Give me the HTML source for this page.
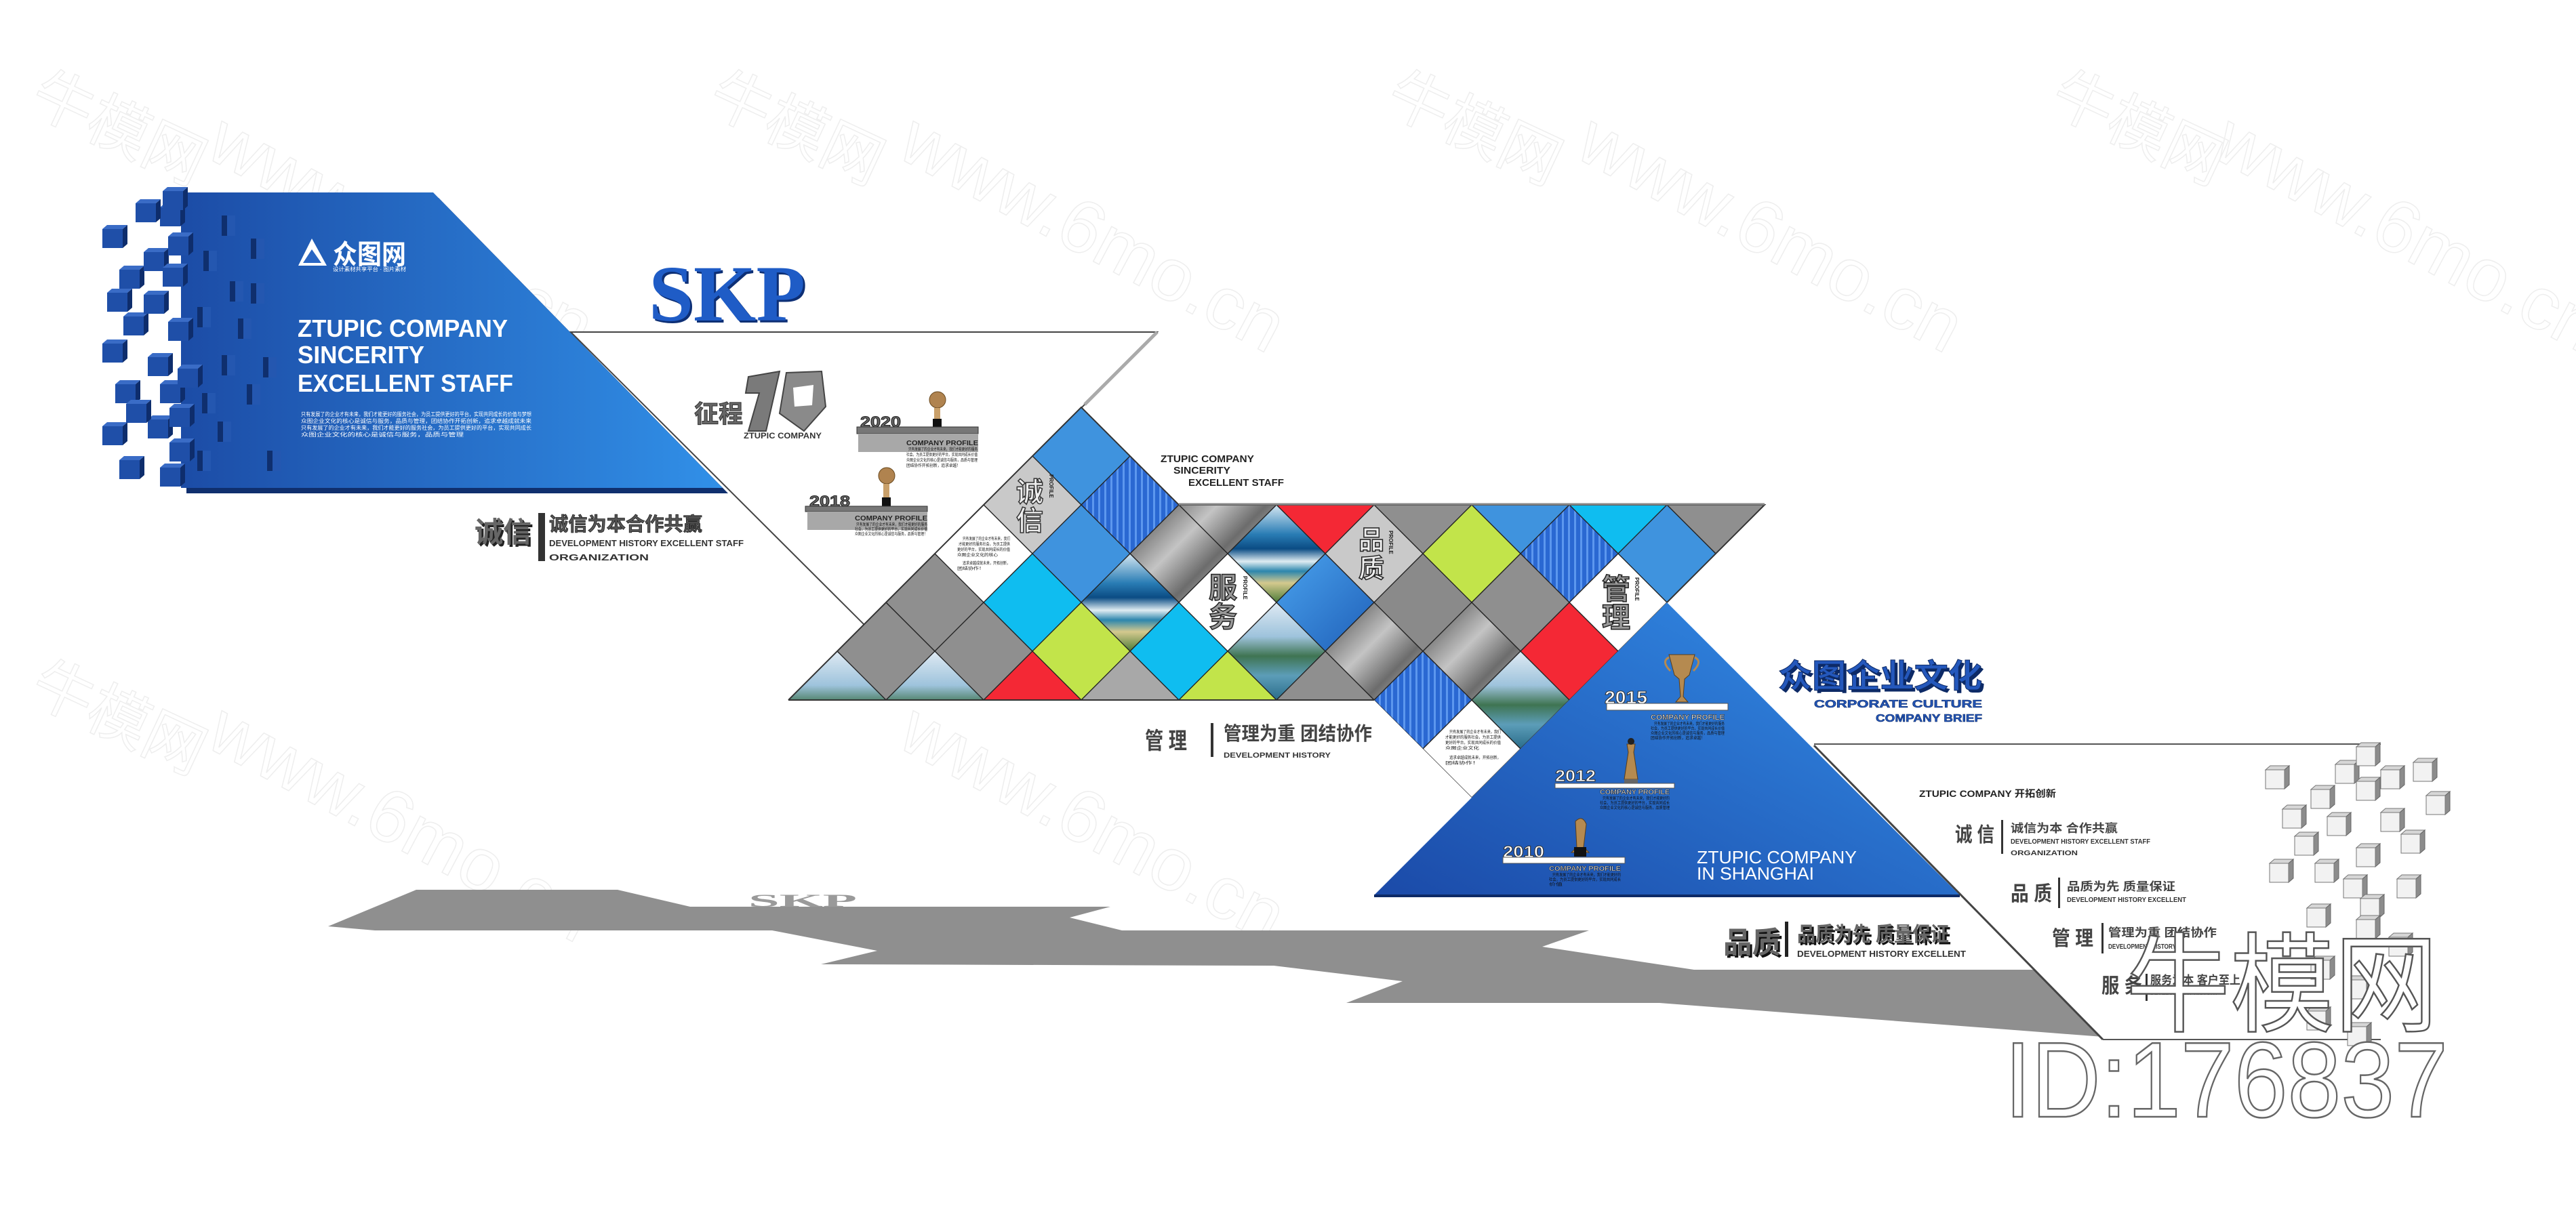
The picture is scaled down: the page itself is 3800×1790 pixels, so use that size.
<!DOCTYPE html>
<html><head><meta charset="utf-8">
<style>
html,body{margin:0;padding:0;background:#fff;}
svg{display:block;}
text{font-family:"Liberation Sans","Noto Sans CJK SC",sans-serif;}
.cn{font-family:"Liberation Sans","Noto Sans CJK SC",sans-serif;font-weight:bold;}
.serif{font-family:"Liberation Serif",serif !important;font-weight:bold;}
</style></head>
<body>
<svg width="3800" height="1790" viewBox="0 0 3800 1790" xmlns="http://www.w3.org/2000/svg">
<defs>
  <linearGradient id="gPanel" x1="0" y1="0" x2="1" y2="0">
    <stop offset="0" stop-color="#1c4ca6"/><stop offset="1" stop-color="#3190e8"/>
  </linearGradient>
  <linearGradient id="gTri" x1="0" y1="1" x2="1" y2="0">
    <stop offset="0" stop-color="#1b4aa8"/><stop offset="1" stop-color="#3490ea"/>
  </linearGradient>
  <linearGradient id="gSea" x1="0" y1="0" x2="0" y2="1">
    <stop offset="0" stop-color="#d6e7f2"/><stop offset="0.3" stop-color="#2a7db5"/>
    <stop offset="0.45" stop-color="#0b4c84"/><stop offset="0.58" stop-color="#dfecf2"/>
    <stop offset="0.68" stop-color="#2c86ad"/><stop offset="0.8" stop-color="#d4c98e"/>
    <stop offset="1" stop-color="#4c7b38"/>
  </linearGradient>
  <linearGradient id="gMtn" x1="0" y1="0" x2="0" y2="1">
    <stop offset="0" stop-color="#dfeaf3"/><stop offset="0.35" stop-color="#9ec3dc"/>
    <stop offset="0.55" stop-color="#3f7452"/><stop offset="0.75" stop-color="#5c9db8"/>
    <stop offset="1" stop-color="#2a6c8a"/>
  </linearGradient>
  <linearGradient id="gBW" x1="0" y1="0" x2="1" y2="1">
    <stop offset="0" stop-color="#3a3a3a"/><stop offset="0.45" stop-color="#c4c4c4"/>
    <stop offset="0.7" stop-color="#6c6c6c"/><stop offset="1" stop-color="#d0d0d0"/>
  </linearGradient>
  <linearGradient id="gBlueD" x1="0" y1="0" x2="1" y2="1">
    <stop offset="0" stop-color="#4aa3ee"/><stop offset="1" stop-color="#1f5fb8"/>
  </linearGradient>
  <pattern id="pStripe" width="9" height="20" patternUnits="userSpaceOnUse">
    <rect width="9" height="20" fill="#2a68d2"/><rect x="0" width="3" height="20" fill="#5c97ee"/>
  </pattern>
  <g id="bc">
    <polygon points="0,0 7,-6 37,-6 30,0" fill="#3a6cc6"/>
    <polygon points="30,0 37,-6 37,22 30,28" fill="#0e2d6c"/>
    <rect x="0" y="0" width="30" height="28" fill="#1f4fa8"/>
  </g>
  <g id="bs">
    <rect x="0" y="0" width="8" height="30" fill="#0f2f6e"/>
    <rect x="8" y="0" width="12" height="30" fill="#2457b0"/>
  </g>
  <g id="gc">
    <polygon points="0,0 7,-6 35,-6 28,0" fill="#d6d6d6" stroke="#777" stroke-width="1"/>
    <polygon points="28,0 35,-6 35,22 28,28" fill="#8c8c8c" stroke="#666" stroke-width="1"/>
    <rect x="0" y="0" width="28" height="28" fill="#f2f2f2" stroke="#777" stroke-width="1"/>
  </g>
  <clipPath id="band"><polygon points="1163,1033 1595,601 1739,745 2603,745 2459,889 2171,1177 2027,1033"/></clipPath>
</defs>

<!-- faint watermarks -->
<g fill="none" stroke="#eeeeee" stroke-width="1.5" font-size="90">
  <text x="40" y="160" transform="rotate(25 40 160)">牛模网</text>
  <text x="1040" y="160" transform="rotate(25 1040 160)">牛模网</text>
  <text x="2040" y="160" transform="rotate(25 2040 160)">牛模网</text>
  <text x="3020" y="160" transform="rotate(25 3020 160)">牛模网</text>
  <text x="40" y="1030" transform="rotate(25 40 1030)">牛模网</text>
  <text x="2300" y="1050" transform="rotate(25 2300 1050)">牛模网</text>
  <text x="300" y="230" font-size="110" transform="rotate(28 300 230)">www.6mo.cn</text>
  <text x="1320" y="230" font-size="110" transform="rotate(28 1320 230)">www.6mo.cn</text>
  <text x="2320" y="230" font-size="110" transform="rotate(28 2320 230)">www.6mo.cn</text>
  <text x="3260" y="230" font-size="110" transform="rotate(28 3260 230)">www.6mo.cn</text>
  <text x="300" y="1100" font-size="110" transform="rotate(28 300 1100)">www.6mo.cn</text>
  <text x="1320" y="1100" font-size="110" transform="rotate(28 1320 1100)">www.6mo.cn</text>
</g>

<!-- shadow -->
<polygon points="614,1313 911,1313 1018,1338 1638,1338 1578,1354 1655,1373 2344,1373 2275,1397 2499,1431 2999,1431 3102,1530 2448,1480 1986,1480 2069,1448 1879,1425 1211,1423 1294,1403 1139,1373 553,1373 484,1367" fill="#8f8f8f"/>
<text x="1104" y="1338" class="serif" style="font-family:'Liberation Serif',serif" font-size="26" fill="#9a9a9a" textLength="160" lengthAdjust="spacingAndGlyphs">SKP</text>

<!-- left blue panel -->
<polygon points="275,292 647,292 1074,728 275,728" fill="#0f2f6e"/>
<polygon points="267,284 639,284 1066,720 267,720" fill="url(#gPanel)"/>
<g>
  <use href="#bs" x="327" y="318"/><use href="#bs" x="370" y="352"/><use href="#bs" x="339" y="415"/>
  <use href="#bs" x="291" y="453"/><use href="#bs" x="351" y="470"/><use href="#bs" x="388" y="527"/>
  <use href="#bs" x="327" y="524"/><use href="#bs" x="364" y="567"/><use href="#bs" x="321" y="622"/>
  <use href="#bs" x="394" y="665"/><use href="#bs" x="291" y="665"/><use href="#bs" x="370" y="418"/>
  <use href="#bs" x="298" y="580"/><use href="#bs" x="300" y="370"/>
</g>
<g>
  <use href="#bc" x="151" y="338"/><use href="#bc" x="176" y="398"/><use href="#bc" x="158" y="432"/>
  <use href="#bc" x="182" y="467"/><use href="#bc" x="151" y="507"/><use href="#bc" x="212" y="372"/>
  <use href="#bc" x="212" y="435"/><use href="#bc" x="236" y="306"/><use href="#bc" x="248" y="349"/>
  <use href="#bc" x="240" y="395"/><use href="#bc" x="248" y="475"/><use href="#bc" x="218" y="527"/>
  <use href="#bc" x="170" y="567"/><use href="#bc" x="236" y="567"/><use href="#bc" x="151" y="629"/>
  <use href="#bc" x="218" y="619"/><use href="#bc" x="250" y="653"/><use href="#bc" x="176" y="679"/>
  <use href="#bc" x="236" y="690"/><use href="#bc" x="262" y="544"/><use href="#bc" x="250" y="602"/>
  <use href="#bc" x="200" y="300"/><use href="#bc" x="186" y="596"/><use href="#bc" x="240" y="282"/>
</g>
<!-- logo -->
<path d="M440,392 L460,352 L482,392 Z" fill="#fff"/>
<path d="M447,388 L460,368 L474,388 Z" fill="#2a66c4"/>
<text x="491" y="389" class="cn" font-size="40" fill="#fff" textLength="108" lengthAdjust="spacingAndGlyphs">众图网</text>
<text x="491" y="400" font-size="8" fill="#fff" textLength="108" lengthAdjust="spacingAndGlyphs">设计素材共享平台 · 图片素材</text>
<g fill="#fff" font-weight="bold">
  <text x="439" y="497" font-size="36" textLength="310" lengthAdjust="spacingAndGlyphs">ZTUPIC COMPANY</text>
  <text x="439" y="536" font-size="36" textLength="187" lengthAdjust="spacingAndGlyphs">SINCERITY</text>
  <text x="439" y="578" font-size="36" textLength="318" lengthAdjust="spacingAndGlyphs">EXCELLENT STAFF</text>
</g>
<g fill="#fff" font-size="8">
  <text x="444" y="614" textLength="340" lengthAdjust="spacingAndGlyphs">只有发展了的企业才有未来，我们才能更好的服务社会，为员工提供更好的平台，实现共同成长的价值与梦想</text>
  <text x="444" y="624" textLength="340" lengthAdjust="spacingAndGlyphs">众图企业文化的核心是诚信与服务，品质与管理，团结协作开拓创新，追求卓越成就未来</text>
  <text x="444" y="634" textLength="340" lengthAdjust="spacingAndGlyphs">只有发展了的企业才有未来，我们才能更好的服务社会，为员工提供更好的平台，实现共同成长</text>
  <text x="444" y="644" textLength="240" lengthAdjust="spacingAndGlyphs">众图企业文化的核心是诚信与服务，品质与管理</text>
</g>

<!-- SKP -->
<text x="960" y="476" class="serif" style="font-family:'Liberation Serif',serif" font-size="118" fill="#0d2f75" textLength="231" lengthAdjust="spacingAndGlyphs">SKP</text>
<text x="957" y="473" class="serif" style="font-family:'Liberation Serif',serif" font-size="118" fill="#1f5cc6" textLength="231" lengthAdjust="spacingAndGlyphs">SKP</text>

<!-- white inverted triangle -->
<polygon points="842,490 1707,490 1275,922" fill="#fff" stroke="#444" stroke-width="2"/>
<line x1="1707" y1="490" x2="1600" y2="597" stroke="#aaa" stroke-width="5"/>

<!-- 征程 10 -->
<text x="1024" y="623" class="cn" font-size="36" fill="#666" stroke="#333" stroke-width="1">征程</text>
<polygon points="1104,556 1150,548 1130,636 1104,636 1120,580 1100,580" fill="#7a7a7a" stroke="#444" stroke-width="2"/>
<polygon points="1160,550 1212,548 1218,600 1186,636 1150,610" fill="#8a8a8a" stroke="#444" stroke-width="2"/>
<polygon points="1170,572 1200,568 1198,598 1172,600" fill="#fff"/>
<text x="1097" y="647" font-size="12" font-weight="bold" fill="#333" textLength="115" lengthAdjust="spacingAndGlyphs">ZTUPIC COMPANY</text>

<!-- plaque 2020 -->
<circle cx="1383" cy="590" r="12" fill="#b0834f" stroke="#6a4a20"/>
<rect x="1378" y="602" width="9" height="18" fill="#c9a06a"/>
<rect x="1376" y="618" width="13" height="12" fill="#111"/>
<text x="1269" y="630" font-size="22" font-weight="bold" fill="#666" stroke="#222" stroke-width="1" textLength="60" lengthAdjust="spacingAndGlyphs">2020</text>
<rect x="1264" y="630" width="179" height="10" fill="#777" stroke="#333"/>
<rect x="1266" y="640" width="177" height="27" fill="#a8a8a8"/>
<text x="1337" y="657" font-size="10" font-weight="bold" fill="#222" textLength="106" lengthAdjust="spacingAndGlyphs">COMPANY PROFILE</text>
<g font-size="6" fill="#111">
<text x="1340" y="665" textLength="102" lengthAdjust="spacingAndGlyphs">只有发展了的企业才有未来，我们才能更好的服务</text>
<text x="1337" y="673" textLength="105" lengthAdjust="spacingAndGlyphs">社会，为员工提供更好的平台，实现共同成长价值</text>
<text x="1337" y="681" textLength="105" lengthAdjust="spacingAndGlyphs">众图企业文化的核心是诚信与服务，品质与管理</text>
<text x="1337" y="689" textLength="80" lengthAdjust="spacingAndGlyphs">团结协作开拓创新，追求卓越！</text>
</g>

<!-- plaque 2018 -->
<circle cx="1308" cy="702" r="12" fill="#b0834f" stroke="#6a4a20"/>
<rect x="1303" y="714" width="9" height="22" fill="#c9a06a"/>
<rect x="1301" y="734" width="13" height="13" fill="#111"/>
<text x="1194" y="747" font-size="22" font-weight="bold" fill="#666" stroke="#222" stroke-width="1" textLength="60" lengthAdjust="spacingAndGlyphs">2018</text>
<rect x="1188" y="747" width="180" height="8" fill="#777" stroke="#333"/>
<rect x="1191" y="755" width="177" height="27" fill="#a8a8a8"/>
<text x="1261" y="768" font-size="10" font-weight="bold" fill="#222" textLength="107" lengthAdjust="spacingAndGlyphs">COMPANY PROFILE</text>
<g font-size="6" fill="#111">
<text x="1263" y="776" textLength="105" lengthAdjust="spacingAndGlyphs">只有发展了的企业才有未来，我们才能更好的服务</text>
<text x="1261" y="783" textLength="107" lengthAdjust="spacingAndGlyphs">社会，为员工提供更好的平台，实现共同成长价值</text>
<text x="1261" y="790" textLength="107" lengthAdjust="spacingAndGlyphs">众图企业文化的核心是诚信与服务，品质与管理！</text>
</g>

<!-- 诚信 left -->
<text x="703" y="803" class="cn" font-size="42" fill="#222">诚信</text>
<text x="700" y="800" class="cn" font-size="42" fill="#666">诚信</text>
<rect x="794" y="757" width="10" height="71" fill="#333"/>
<text x="810" y="783" class="cn" font-size="28" fill="#555" stroke="#222" stroke-width="0.8" textLength="226" lengthAdjust="spacingAndGlyphs">诚信为本合作共赢</text>
<text x="810" y="806" font-size="13" font-weight="bold" fill="#333" textLength="287" lengthAdjust="spacingAndGlyphs">DEVELOPMENT HISTORY EXCELLENT STAFF</text>
<text x="810" y="827" font-size="13" font-weight="bold" fill="#333" textLength="147" lengthAdjust="spacingAndGlyphs">ORGANIZATION</text>

<!-- diamond band -->
<g clip-path="url(#band)" stroke="#222" stroke-width="1.3">
<polygon points="1595,601 1667,673 1595,745 1523,673" fill="#3f93de"/>
<polygon points="1523,673 1595,745 1523,817 1451,745" fill="#c9c9c9"/>
<polygon points="1667,673 1739,745 1667,817 1595,745" fill="url(#pStripe)"/>
<polygon points="1811,673 1883,745 1811,817 1739,745" fill="url(#gBW)"/>
<polygon points="1955,673 2027,745 1955,817 1883,745" fill="#f42835"/>
<polygon points="2099,673 2171,745 2099,817 2027,745" fill="#8f8f8f"/>
<polygon points="2243,673 2315,745 2243,817 2171,745" fill="#3f93de"/>
<polygon points="2387,673 2459,745 2387,817 2315,745" fill="#0fbdf0"/>
<polygon points="2531,673 2603,745 2531,817 2459,745" fill="#8f8f8f"/>
<polygon points="1451,745 1523,817 1451,889 1379,817" fill="#fff"/>
<polygon points="1595,745 1667,817 1595,889 1523,817" fill="#3f93de"/>
<polygon points="1739,745 1811,817 1739,889 1667,817" fill="url(#gBW)"/>
<polygon points="1883,745 1955,817 1883,889 1811,817" fill="url(#gSea)"/>
<polygon points="2027,745 2099,817 2027,889 1955,817" fill="#c9c9c9"/>
<polygon points="2171,745 2243,817 2171,889 2099,817" fill="#c2e44a"/>
<polygon points="2315,745 2387,817 2315,889 2243,817" fill="url(#pStripe)"/>
<polygon points="2459,745 2531,817 2459,889 2387,817" fill="#3f93de"/>
<polygon points="1379,817 1451,889 1379,961 1307,889" fill="#8f8f8f"/>
<polygon points="1523,817 1595,889 1523,961 1451,889" fill="#0fbdf0"/>
<polygon points="1667,817 1739,889 1667,961 1595,889" fill="url(#gSea)"/>
<polygon points="1811,817 1883,889 1811,961 1739,889" fill="#fff"/>
<polygon points="1955,817 2027,889 1955,961 1883,889" fill="url(#gBlueD)"/>
<polygon points="2099,817 2171,889 2099,961 2027,889" fill="#8a8a8a"/>
<polygon points="2243,817 2315,889 2243,961 2171,889" fill="#8f8f8f"/>
<polygon points="2387,817 2459,889 2387,961 2315,889" fill="#fff"/>
<polygon points="1307,889 1379,961 1307,1033 1235,961" fill="#8f8f8f"/>
<polygon points="1451,889 1523,961 1451,1033 1379,961" fill="#8f8f8f"/>
<polygon points="1595,889 1667,961 1595,1033 1523,961" fill="#c2e44a"/>
<polygon points="1739,889 1811,961 1739,1033 1667,961" fill="#0fbdf0"/>
<polygon points="1883,889 1955,961 1883,1033 1811,961" fill="url(#gMtn)"/>
<polygon points="2027,889 2099,961 2027,1033 1955,961" fill="url(#gBW)"/>
<polygon points="2171,889 2243,961 2171,1033 2099,961" fill="url(#gBW)"/>
<polygon points="2315,889 2387,961 2315,1033 2243,961" fill="#f42835"/>
<polygon points="1235,961 1307,1033 1235,1105 1163,1033" fill="url(#gMtn)"/>
<polygon points="1379,961 1451,1033 1379,1105 1307,1033" fill="url(#gMtn)"/>
<polygon points="1523,961 1595,1033 1523,1105 1451,1033" fill="#f42835"/>
<polygon points="1667,961 1739,1033 1667,1105 1595,1033" fill="#a8a8a8"/>
<polygon points="1811,961 1883,1033 1811,1105 1739,1033" fill="#c2e44a"/>
<polygon points="1955,961 2027,1033 1955,1105 1883,1033" fill="#8f8f8f"/>
<polygon points="2099,961 2171,1033 2099,1105 2027,1033" fill="url(#pStripe)"/>
<polygon points="2243,961 2315,1033 2243,1105 2171,1033" fill="url(#gMtn)"/>
<polygon points="2171,1033 2243,1105 2171,1177 2099,1105" fill="#fff"/>
</g>
<polyline points="1163,1033 1595,601 1739,745 2603,745 2459,889" fill="none" stroke="#333" stroke-width="2"/>
<line x1="1163" y1="1033" x2="2027" y2="1033" stroke="#333" stroke-width="2"/>
<line x1="1739" y1="744" x2="2603" y2="744" stroke="#888" stroke-width="3"/>

<!-- band texts -->
<g class="cn" font-size="40" fill="#eee" stroke="#333" stroke-width="1.5">
  <text x="1499" y="740">诚</text><text x="1499" y="782">信</text>
</g>
<g class="cn" font-size="42" fill="#999" stroke="#222" stroke-width="1.5">
  <text x="1783" y="882">服</text><text x="1783" y="925">务</text>
  <text x="2004" y="810" font-size="38" fill="#eee">品</text><text x="2004" y="852" font-size="38" fill="#eee">质</text>
  <text x="2363" y="884">管</text><text x="2363" y="926">理</text>
</g>
<g font-size="8" font-weight="bold" fill="#222">
  <text x="1548" y="700" transform="rotate(90 1548 700)">PROFILE</text>
  <text x="1834" y="850" transform="rotate(90 1834 850)">PROFILE</text>
  <text x="2049" y="783" transform="rotate(90 2049 783)">PROFILE</text>
  <text x="2412" y="852" transform="rotate(90 2412 852)">PROFILE</text>
</g>
<g font-weight="bold" fill="#222" font-size="15">
  <text x="1712" y="682" textLength="138" lengthAdjust="spacingAndGlyphs">ZTUPIC COMPANY</text>
  <text x="1731" y="699" textLength="84" lengthAdjust="spacingAndGlyphs">SINCERITY</text>
  <text x="1753" y="717" textLength="141" lengthAdjust="spacingAndGlyphs">EXCELLENT STAFF</text>
</g>
<g font-size="6" fill="#111">
  <text x="1420" y="797" textLength="70" lengthAdjust="spacingAndGlyphs">只有发展了的企业才有未来，我们</text>
  <text x="1414" y="805" textLength="76" lengthAdjust="spacingAndGlyphs">才能更好的服务社会，为员工提供</text>
  <text x="1412" y="813" textLength="78" lengthAdjust="spacingAndGlyphs">更好的平台，实现共同成长的价值</text>
  <text x="1412" y="821" textLength="60" lengthAdjust="spacingAndGlyphs">众图企业文化的核心</text>
  <text x="1420" y="833" textLength="70" lengthAdjust="spacingAndGlyphs">追求卓越成就未来，开拓创新，</text>
  <text x="1412" y="841" textLength="40" lengthAdjust="spacingAndGlyphs">团结协作！</text>
  <text x="2138" y="1082" textLength="76" lengthAdjust="spacingAndGlyphs">只有发展了的企业才有未来，我们</text>
  <text x="2132" y="1090" textLength="82" lengthAdjust="spacingAndGlyphs">才能更好的服务社会，为员工提供</text>
  <text x="2132" y="1098" textLength="82" lengthAdjust="spacingAndGlyphs">更好的平台，实现共同成长的价值</text>
  <text x="2132" y="1106" textLength="50" lengthAdjust="spacingAndGlyphs">众图企业文化</text>
  <text x="2138" y="1120" textLength="76" lengthAdjust="spacingAndGlyphs">追求卓越成就未来，开拓创新，</text>
  <text x="2132" y="1128" textLength="50" lengthAdjust="spacingAndGlyphs">团结协作！</text>
</g>

<!-- 管 理 line -->
<text x="1689" y="1105" class="cn" font-size="34" fill="#444" textLength="62" lengthAdjust="spacingAndGlyphs">管 理</text>
<rect x="1786" y="1067" width="4" height="50" fill="#333"/>
<text x="1805" y="1092" class="cn" font-size="28" fill="#444" textLength="219" lengthAdjust="spacingAndGlyphs">管理为重 团结协作</text>
<text x="1805" y="1118" font-size="11" font-weight="bold" fill="#333" textLength="158" lengthAdjust="spacingAndGlyphs">DEVELOPMENT HISTORY</text>

<!-- right white panel -->
<polygon points="2676,1098 3512,1098 3512,1534 3102,1534" fill="#fff"/>
<line x1="2676" y1="1098" x2="3512" y2="1098" stroke="#555" stroke-width="2"/>
<line x1="2676" y1="1100" x2="3102" y2="1534" stroke="#444" stroke-width="3"/>
<line x1="3102" y1="1534" x2="3512" y2="1534" stroke="#555" stroke-width="2"/>

<!-- big blue triangle -->
<polygon points="2459,889 2027,1321 2891,1321" fill="url(#gTri)"/>
<line x1="2027" y1="1322" x2="2891" y2="1322" stroke="#0d2a66" stroke-width="4"/>

<!-- trophies / plaques in triangle -->
<g>
  <path d="M2462,966 L2500,966 L2492,996 L2485,1002 L2483,1028 L2490,1036 L2472,1036 L2479,1028 L2477,1002 L2470,996 Z" fill="#b58a50" stroke="#5a3e1a"/>
  <path d="M2462,970 q-12,6 2,20 M2500,970 q12,6 -2,20" fill="none" stroke="#b58a50" stroke-width="3"/>
  <text x="2367" y="1038" font-size="26" font-weight="bold" fill="#fff" stroke="#333" stroke-width="1" textLength="63" lengthAdjust="spacingAndGlyphs">2015</text>
  <rect x="2370" y="1038" width="179" height="10" fill="#fff" stroke="#555"/>
  <text x="2435" y="1062" font-size="11" font-weight="bold" fill="#ddd" stroke="#222" stroke-width="0.5" textLength="109" lengthAdjust="spacingAndGlyphs">COMPANY PROFILE</text>
  <g font-size="6" fill="#111">
    <text x="2440" y="1070" textLength="104" lengthAdjust="spacingAndGlyphs">只有发展了的企业才有未来，我们才能更好的服务</text>
    <text x="2435" y="1077" textLength="109" lengthAdjust="spacingAndGlyphs">社会，为员工提供更好的平台，实现共同成长价值</text>
    <text x="2435" y="1084" textLength="109" lengthAdjust="spacingAndGlyphs">众图企业文化的核心是诚信与服务，品质与管理</text>
    <text x="2435" y="1091" textLength="80" lengthAdjust="spacingAndGlyphs">团结协作开拓创新，追求卓越！</text>
  </g>
  <path d="M2400,1098 L2412,1098 L2410,1110 L2416,1150 L2396,1150 L2402,1110 Z" fill="#b58a50" stroke="#5a3e1a"/>
  <circle cx="2406" cy="1094" r="5" fill="#222"/>
  <rect x="2396" y="1150" width="20" height="6" fill="#666"/>
  <text x="2294" y="1153" font-size="24" font-weight="bold" fill="#fff" stroke="#333" stroke-width="1" textLength="60" lengthAdjust="spacingAndGlyphs">2012</text>
  <rect x="2294" y="1156" width="176" height="7" fill="#fff" stroke="#555"/>
  <text x="2360" y="1172" font-size="10" font-weight="bold" fill="#ddd" stroke="#222" stroke-width="0.5" textLength="103" lengthAdjust="spacingAndGlyphs">COMPANY PROFILE</text>
  <g font-size="6" fill="#111">
    <text x="2364" y="1180" textLength="99" lengthAdjust="spacingAndGlyphs">只有发展了的企业才有未来，我们才能更好的</text>
    <text x="2360" y="1187" textLength="103" lengthAdjust="spacingAndGlyphs">社会，为员工提供更好的平台，实现共同成长</text>
    <text x="2360" y="1194" textLength="103" lengthAdjust="spacingAndGlyphs">众图企业文化的核心是诚信与服务，品质管理</text>
  </g>
  <path d="M2324,1212 q10,-10 16,4 L2336,1250 L2344,1258 L2318,1258 L2326,1250 Z" fill="#b58a50" stroke="#5a3e1a"/>
  <rect x="2322" y="1250" width="18" height="14" fill="#111"/>
  <text x="2217" y="1265" font-size="24" font-weight="bold" fill="#fff" stroke="#333" stroke-width="1" textLength="61" lengthAdjust="spacingAndGlyphs">2010</text>
  <rect x="2217" y="1265" width="180" height="9" fill="#fff" stroke="#555"/>
  <text x="2285" y="1285" font-size="10" font-weight="bold" fill="#ddd" stroke="#222" stroke-width="0.5" textLength="106" lengthAdjust="spacingAndGlyphs">COMPANY PROFILE</text>
  <g font-size="6" fill="#111">
    <text x="2290" y="1293" textLength="101" lengthAdjust="spacingAndGlyphs">只有发展了的企业才有未来，我们才能更好的</text>
    <text x="2285" y="1300" textLength="106" lengthAdjust="spacingAndGlyphs">社会，为员工提供更好的平台，实现共同成长</text>
    <text x="2285" y="1307" textLength="20" lengthAdjust="spacingAndGlyphs">价值</text>
  </g>
  <text x="2503" y="1274" font-size="26" fill="#fff" textLength="236" lengthAdjust="spacingAndGlyphs">ZTUPIC COMPANY</text>
  <text x="2503" y="1298" font-size="26" fill="#fff" textLength="173" lengthAdjust="spacingAndGlyphs">IN SHANGHAI</text>
</g>

<!-- 众图企业文化 -->
<text x="2627" y="1018" class="cn" font-size="48" fill="#0d2a66" textLength="301" lengthAdjust="spacingAndGlyphs">众图企业文化</text>
<text x="2623" y="1014" class="cn" font-size="48" fill="#2458bc" stroke="#0d2a66" stroke-width="1" textLength="301" lengthAdjust="spacingAndGlyphs">众图企业文化</text>
<text x="2676" y="1044" font-size="16" font-weight="bold" fill="#2458bc" stroke="#0d2a66" stroke-width="0.6" textLength="248" lengthAdjust="spacingAndGlyphs">CORPORATE CULTURE</text>
<text x="2767" y="1065" font-size="16" font-weight="bold" fill="#2458bc" stroke="#0d2a66" stroke-width="0.6" textLength="157" lengthAdjust="spacingAndGlyphs">COMPANY BRIEF</text>

<!-- 品质 3D below triangle -->
<text x="2545" y="1409" class="cn" font-size="44" fill="#111" textLength="85" lengthAdjust="spacingAndGlyphs">品质</text>
<text x="2542" y="1406" class="cn" font-size="44" fill="#666" textLength="85" lengthAdjust="spacingAndGlyphs">品质</text>
<rect x="2633" y="1360" width="5" height="52" fill="#222"/>
<text x="2654" y="1392" class="cn" font-size="30" fill="#111" textLength="224" lengthAdjust="spacingAndGlyphs">品质为先 质量保证</text>
<text x="2651" y="1389" class="cn" font-size="30" fill="#666" textLength="224" lengthAdjust="spacingAndGlyphs">品质为先 质量保证</text>
<text x="2651" y="1412" font-size="13" font-weight="bold" fill="#333" textLength="249" lengthAdjust="spacingAndGlyphs">DEVELOPMENT HISTORY EXCELLENT</text>

<!-- right panel text -->
<text x="2831" y="1176" font-size="14" font-weight="bold" fill="#222" textLength="202" lengthAdjust="spacingAndGlyphs">ZTUPIC COMPANY 开拓创新</text>
<g class="cn" fill="#444">
  <text x="2884" y="1242" font-size="30" textLength="58" lengthAdjust="spacingAndGlyphs">诚 信</text>
  <text x="2966" y="1329" font-size="30" textLength="61" lengthAdjust="spacingAndGlyphs">品 质</text>
  <text x="3027" y="1395" font-size="30" textLength="61" lengthAdjust="spacingAndGlyphs">管 理</text>
  <text x="3100" y="1465" font-size="30" textLength="60" lengthAdjust="spacingAndGlyphs">服 务</text>
  <text x="2966" y="1228" font-size="17" textLength="158" lengthAdjust="spacingAndGlyphs">诚信为本 合作共赢</text>
  <text x="3049" y="1314" font-size="17" textLength="160" lengthAdjust="spacingAndGlyphs">品质为先 质量保证</text>
  <text x="3110" y="1382" font-size="17" textLength="160" lengthAdjust="spacingAndGlyphs">管理为重 团结协作</text>
  <text x="3172" y="1452" font-size="17" textLength="133" lengthAdjust="spacingAndGlyphs">服务为本 客户至上</text>
</g>
<g fill="#333">
  <rect x="2952" y="1210" width="3" height="50"/><rect x="3036" y="1295" width="3" height="45"/>
  <rect x="3100" y="1362" width="3" height="45"/><rect x="3165" y="1437" width="3" height="40"/>
</g>
<g font-size="10" font-weight="bold" fill="#333">
  <text x="2966" y="1245" textLength="206" lengthAdjust="spacingAndGlyphs">DEVELOPMENT HISTORY EXCELLENT STAFF</text>
  <text x="2966" y="1262" textLength="99" lengthAdjust="spacingAndGlyphs">ORGANIZATION</text>
  <text x="3049" y="1331" textLength="176" lengthAdjust="spacingAndGlyphs">DEVELOPMENT HISTORY EXCELLENT</text>
  <text x="3110" y="1400" textLength="100" lengthAdjust="spacingAndGlyphs">DEVELOPMENT HISTORY</text>
  <text x="3172" y="1468" textLength="100" lengthAdjust="spacingAndGlyphs">DEVELOPMENT HISTORY</text>
</g>

<!-- gray cubes -->
<g>
  <use href="#gc" x="3342" y="1136"/><use href="#gc" x="3445" y="1128"/><use href="#gc" x="3512" y="1136"/>
  <use href="#gc" x="3560" y="1125"/><use href="#gc" x="3409" y="1165"/><use href="#gc" x="3476" y="1153"/>
  <use href="#gc" x="3579" y="1174"/><use href="#gc" x="3367" y="1194"/><use href="#gc" x="3433" y="1205"/>
  <use href="#gc" x="3512" y="1199"/><use href="#gc" x="3385" y="1234"/><use href="#gc" x="3542" y="1231"/>
  <use href="#gc" x="3476" y="1251"/><use href="#gc" x="3348" y="1274"/><use href="#gc" x="3415" y="1274"/>
  <use href="#gc" x="3536" y="1297"/><use href="#gc" x="3457" y="1297"/><use href="#gc" x="3482" y="1326"/>
  <use href="#gc" x="3403" y="1340"/><use href="#gc" x="3476" y="1357"/><use href="#gc" x="3524" y="1383"/>
  <use href="#gc" x="3409" y="1417"/><use href="#gc" x="3463" y="1446"/><use href="#gc" x="3403" y="1492"/>
  <use href="#gc" x="3463" y="1515"/><use href="#gc" x="3476" y="1102"/>
</g>

<!-- big watermark -->
<text x="3136" y="1510" font-size="160" fill="#fff" stroke="#555" stroke-width="2.5" textLength="461" lengthAdjust="spacingAndGlyphs">牛模网</text>
<text x="2957" y="1648" font-size="158" fill="#fff" stroke="#666" stroke-width="2.5" textLength="654" lengthAdjust="spacingAndGlyphs">ID:176837</text>
</svg>
</body></html>
